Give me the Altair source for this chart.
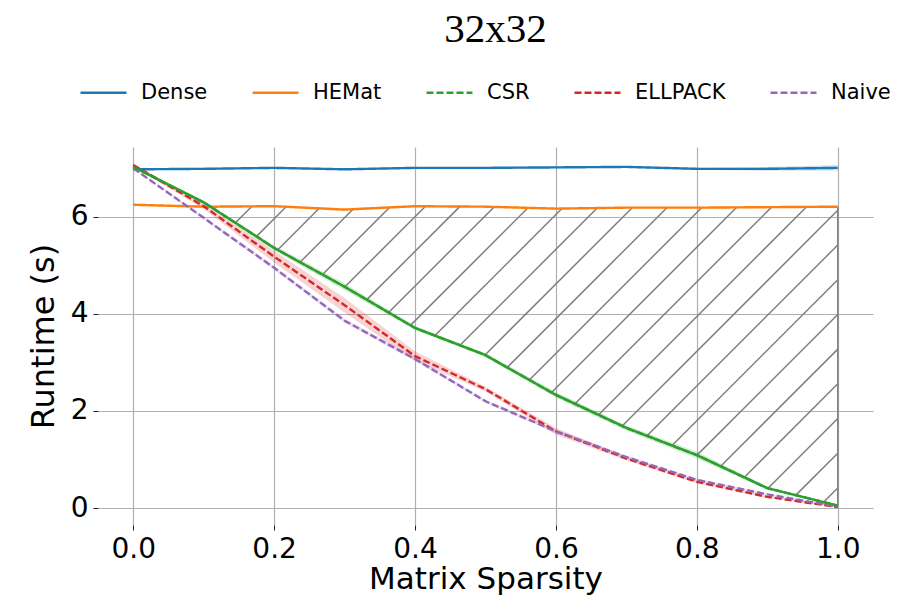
import numpy as np
import pandas as pd
import altair as alt

title_text = ["32x32"]
sparsity = [0.0, 0.1, 0.2, 0.3, 0.4, 0.5, 0.6, 0.7, 0.8, 0.9, 1.0]
series_names = ["Dense", "HEMat", "CSR", "ELLPACK", "Naive"]
colors = ["#1f77b4", "#ff7f0e", "#2ca02c", "#d62728", "#9467bd"]

dense = [6.98, 6.99, 7.01, 6.98, 7.01, 7.01, 7.02, 7.03, 6.99, 6.99, 7.01]
hemat = [6.25, 6.21, 6.22, 6.15, 6.22, 6.21, 6.17, 6.19, 6.19, 6.20, 6.21]
csr = [7.03, 6.30, 5.36, 4.56, 3.71, 3.15, 2.33, 1.65, 1.09, 0.41, 0.05]
ellpack = [7.07, 6.22, 5.18, 4.18, 3.13, 2.45, 1.58, 1.02, 0.54, 0.23, 0.02]
naive = [7.00, 5.98, 4.95, 3.86, 3.07, 2.20, 1.58, 1.05, 0.58, 0.28, 0.03]

dense_ci = [0.02, 0.02, 0.02, 0.02, 0.02, 0.02, 0.02, 0.02, 0.02, 0.04, 0.06]
hemat_ci = [0.02, 0.02, 0.02, 0.03, 0.02, 0.02, 0.02, 0.02, 0.02, 0.02, 0.02]
csr_ci = [0.02, 0.03, 0.05, 0.07, 0.04, 0.04, 0.06, 0.05, 0.07, 0.03, 0.02]
ellpack_ci = [0.03, 0.06, 0.12, 0.15, 0.10, 0.05, 0.07, 0.04, 0.03, 0.02, 0.01]
naive_ci = [0.02, 0.03, 0.04, 0.04, 0.04, 0.03, 0.04, 0.03, 0.03, 0.02, 0.01]

x_ticks = [0.0, 0.2, 0.4, 0.6, 0.8, 1.0]
y_ticks = [0, 2, 4, 6]

# ---- long table ----
rows = []
for name, vals, ci in zip(series_names,
                          [dense, hemat, csr, ellpack, naive],
                          [dense_ci, hemat_ci, csr_ci, ellpack_ci, naive_ci]):
    for s, v, c in zip(sparsity, vals, ci):
        rows.append({"sparsity": s, "runtime": v, "lo": v - c, "hi": v + c, "series": name})
df = pd.DataFrame(rows)

# ---- hatch between HEMat (top) and CSR (bottom) where CSR < HEMat ----
W, H = 775, 378
xdom = [-0.05, 1.05]
ydom = [-0.35, 7.44]
px_x = W / (xdom[1] - xdom[0])
px_y = H / (ydom[1] - ydom[0])
slope = px_x / px_y  # 45 degrees on screen
spacing = 34.7 / px_y
c0 = 5.42 - slope * 1.0
xs = np.linspace(0.0, 1.0, 4001)
top = np.interp(xs, sparsity, hemat)
bot = np.interp(xs, sparsity, csr)
segs = []
for k in range(-40, 40):
    c = c0 + k * spacing
    yl = c + slope * xs
    mask = (yl <= top) & (yl >= bot) & (bot < top)
    if mask.sum() < 2:
        continue
    idx = np.where(mask)[0]
    xa, xb = xs[idx[0]], xs[idx[-1]]
    segs.append({"x": xa, "y": c + slope * xa, "x2": xb, "y2": c + slope * xb})
segs.append({"x": 1.0, "y": csr[-1], "x2": 1.0, "y2": hemat[-1]})
hatch_df = pd.DataFrame(segs)

xscale = alt.Scale(domain=xdom, nice=False, zero=False)
yscale = alt.Scale(domain=ydom, nice=False, zero=False)
color_scale = alt.Scale(domain=series_names, range=colors)
dash_scale = alt.Scale(domain=series_names, range=[[1, 0], [1, 0], [7, 3], [7, 3], [7, 3]])

legend = alt.Legend(
    orient="none", legendX=-19, legendY=-79, direction="horizontal", columns=5,
    title=None, symbolType="stroke", symbolSize=2116, symbolStrokeWidth=2.3,
    labelFont="DejaVu Sans", labelFontSize=21, labelColor="#000000",
    labelOffset=13, columnPadding=39,
)

xaxis = alt.Axis(values=x_ticks, format=".1f", title="Matrix Sparsity")
yaxis = alt.Axis(values=y_ticks, format="d", title="Runtime (s)")

base = alt.Chart(df)

bands = base.mark_area(opacity=0.2).encode(
    x=alt.X("sparsity:Q", scale=xscale, axis=xaxis),
    y=alt.Y("lo:Q", scale=yscale, axis=yaxis),
    y2="hi:Q",
    fill=alt.Fill("series:N", scale=color_scale, legend=None),
    detail="series:N",
)

hatch = alt.Chart(hatch_df).mark_rule(color="#7f7f7f", strokeWidth=1.5).encode(
    x=alt.X("x:Q", scale=xscale),
    y=alt.Y("y:Q", scale=yscale),
    x2="x2:Q",
    y2="y2:Q",
)

lines = base.mark_line(strokeWidth=2.4).encode(
    x=alt.X("sparsity:Q", scale=xscale),
    y=alt.Y("runtime:Q", scale=yscale),
    stroke=alt.Stroke("series:N", scale=color_scale, legend=legend, sort=series_names),
    strokeDash=alt.StrokeDash("series:N", scale=dash_scale, legend=legend, sort=series_names),
)

csr_solid = base.transform_filter(alt.datum.series == "CSR").mark_line(
    strokeWidth=2.4, color="#2ca02c"
).encode(
    x=alt.X("sparsity:Q", scale=xscale),
    y=alt.Y("runtime:Q", scale=yscale),
)

title = alt.Chart(pd.DataFrame({"t": title_text})).mark_text(
    font="Liberation Serif", fontSize=41, color="#000000",
    align="center", baseline="alphabetic",
).encode(text="t:N", x=alt.value(W / 2 + 10), y=alt.value(-105))

chart = alt.layer(bands, hatch, lines, csr_solid, title).resolve_scale(
    fill="independent"
).properties(
    width=W, height=H,
    autosize=alt.AutoSizeParams(type="none"),
    padding={"left": 90, "top": 139, "right": 21, "bottom": 70},
).configure_view(stroke=None).configure_axis(
    grid=True, gridColor="#b0b0b0", gridWidth=1.2, domain=False,
    ticks=True, tickColor="#222222", tickSize=5, tickWidth=1,
    labelFont="DejaVu Sans", labelFontSize=28, labelColor="#000000", labelPadding=5,
    titleFont="DejaVu Sans", titleFontSize=32, titleFontWeight="normal", titleColor="#000000",
).configure_axisY(titlePadding=10).configure_axisX(titlePadding=1, titleFontSize=31)

chart.save("out.html", embed_options={"renderer": "svg", "actions": False})
